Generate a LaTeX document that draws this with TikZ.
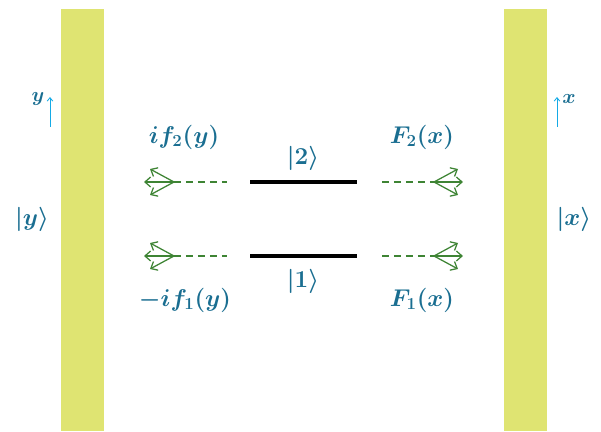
\documentclass[tikz,border=0pt]{standalone}
\usepackage{amsmath}
\usetikzlibrary{arrows.meta}

\definecolor{barcolor}{RGB}{223,228,114}
\definecolor{labelblue}{RGB}{26,110,145}
\definecolor{axiscyan}{RGB}{20,170,230}
\definecolor{wavegreen}{RGB}{62,132,52}

\tikzset{
  mirror/.style={fill=barcolor, draw=none},
  level/.style={line width=2.2pt, black},
  emit/.style={wavegreen, line width=0.9pt, -{Straight Barb[length=4pt,width=7pt]}},
  guide/.style={wavegreen, line width=0.8pt, dash pattern=on 5pt off 3.5pt},
  axisarrow/.style={axiscyan, line width=0.6pt, -{Straight Barb[length=2.5pt,width=4pt]}},
  lbl/.style={text=labelblue, font=\fontsize{18.3}{22}\selectfont\boldmath},
  axislbl/.style={text=labelblue, font=\fontsize{15.5}{18}\selectfont\boldmath}
}

\begin{document}
\begin{tikzpicture}[x=0.025cm, y=-0.025cm]
    % Fix the size of the picture
    \useasboundingbox (0,0) rectangle (601,432);

    % The two mirrors
    \fill[mirror] (61,9) rectangle (104,431);
    \fill[mirror] (504,9) rectangle (547,431);

    % Axis arrows next to the mirrors
    \coordinate (yBottom) at (50,127);
    \coordinate (yTop) at (50,97);
    \draw[axisarrow] (yBottom) -- (yTop);
    \node[axislbl] (yAxis) at (38,99) {$y$};

    \coordinate (xBottom) at (557,127);
    \coordinate (xTop) at (557,97);
    \draw[axisarrow] (xBottom) -- (xTop);
    \node[axislbl] (xAxis) at (569,99) {$x$};

    % States at the mirrors
    \node[lbl] (stateY) at (32,219) {$|y\rangle$};
    \node[lbl] (stateX) at (574,219) {$|x\rangle$};

    % The two levels
    \coordinate (twoLeft) at (250,182);
    \coordinate (twoRight) at (357,182);
    \draw[level] (twoLeft) -- (twoRight);
    \node[lbl] (twoLabel) at (303,158) {$|2\rangle$};

    \coordinate (oneLeft) at (250,256);
    \coordinate (oneRight) at (357,256);
    \draw[level] (oneLeft) -- (oneRight);
    \node[lbl] (oneLabel) at (303,281) {$|1\rangle$};

    % Emission towards the left mirror
    \foreach \row/\yy in {upper/182, lower/256} {
      \coordinate (leftSrc\row) at (174,\yy);
      \coordinate (leftEnd\row) at (227,\yy);
      \draw[guide] (leftSrc\row) -- (leftEnd\row);
      \coordinate (leftTip\row) at (144,\yy);
      \coordinate (leftUp\row) at (150,\yy-13);
      \coordinate (leftDown\row) at (150,\yy+13);
      \draw[emit] (leftSrc\row) -- (leftTip\row);
      \draw[emit] (leftSrc\row) -- (leftUp\row);
      \draw[emit] (leftSrc\row) -- (leftDown\row);
    }

    % Emission towards the right mirror
    \foreach \row/\yy in {upper/182, lower/256} {
      \coordinate (rightSrc\row) at (434,\yy);
      \coordinate (rightEnd\row) at (382,\yy);
      \draw[guide] (rightEnd\row) -- (rightSrc\row);
      \coordinate (rightTip\row) at (463,\yy);
      \coordinate (rightUp\row) at (458,\yy-13);
      \coordinate (rightDown\row) at (458,\yy+13);
      \draw[emit] (rightSrc\row) -- (rightTip\row);
      \draw[emit] (rightSrc\row) -- (rightUp\row);
      \draw[emit] (rightSrc\row) -- (rightDown\row);
    }

    % Amplitudes
    \node[lbl] (ampTwoY) at (184,137) {$if_2(y)$};
    \node[lbl] (ampOneY) at (185,300) {$-if_1(y)$};
    \node[lbl] (ampTwoX) at (422,137) {$F_2(x)$};
    \node[lbl] (ampOneX) at (422,300) {$F_1(x)$};
  \end{tikzpicture}
\end{document}
